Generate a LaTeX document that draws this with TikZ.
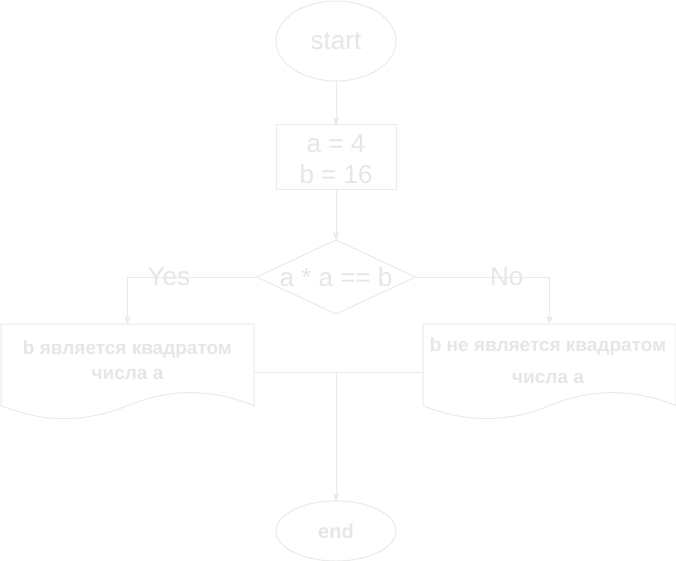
\documentclass[tikz,border=0pt]{standalone}
\usepackage{fontspec}
\setmainfont{Liberation Sans}
\usetikzlibrary{shapes.geometric,arrows.meta}
\definecolor{ln}{RGB}{234,234,234}
\definecolor{tx}{RGB}{230,230,230}
\begin{document}
\begin{tikzpicture}[x=1pt,y=-1pt,
  every node/.style={text=tx, inner sep=0pt, outer sep=0pt},
  line/.style={draw=ln, line width=1pt},
  arr/.style={line, -{Stealth[length=8pt,width=6.5pt,inset=2pt]}},
  big/.style={font=\fontsize{26}{31}\selectfont, align=center},
  doctext/.style={font=\bfseries\fontsize{19}{25}\selectfont, align=center},
  lbl/.style={font=\fontsize{26}{30}\selectfont}]
\useasboundingbox (0,0) rectangle (676,561);
\fill[white] (0,0) rectangle (676,561);

\node[ellipse, line, minimum width=120pt, minimum height=80pt, big] (start) at (336,41) {start};
\node[rectangle, line, minimum width=120pt, minimum height=65pt] (init) at (336,157.5) {};
\node[big] (inittext) at (336,159.5) {a = 4\\b = 16};
\node[diamond, line, minimum width=159pt, minimum height=74pt] (dec) at (336,277) {};
\node[big] (dectext) at (dec.center) {a * a == b};

% documents
\draw[line] (1,324) -- (254,324) -- (254,405.6)
  .. controls (211.83,388.32) and (169.67,388.32) .. (127.5,405.6)
  .. controls (85.33,422.88) and (43.17,422.88) .. (1,405.6) -- cycle;
\draw[line] (423,324) -- (676,324) -- (676,405.6)
  .. controls (633.83,388.32) and (591.67,388.32) .. (549.5,405.6)
  .. controls (507.33,422.88) and (465.17,422.88) .. (423,405.6) -- cycle;
\node[doctext] (ltext) at (127.5,360) {b является квадратом\\числа а};
\node[doctext, font=\bfseries\fontsize{19}{32}\selectfont] (rtext) at (548,361) {b не является квадратом\\числа а};
\coordinate (ltop) at (127.5,324);
\coordinate (rtop) at (549.5,324);
\coordinate (lright) at (254,372);
\coordinate (rleft) at (423,372);
\coordinate (merge) at (336,372);

\node[ellipse, line, minimum width=120pt, minimum height=60pt, font=\bfseries\fontsize{20}{24}\selectfont] (end) at (336,531) {end};

\draw[arr] (start) -- (init);
\draw[arr] (init.south) -- (dec.north);
\draw[arr] (dec.west) -| (ltop) node[lbl, pos=0.34] (yes) {Yes};
\draw[arr] (dec.east) -| (rtop) node[lbl, pos=0.34] (no) {No};
\draw[line] (lright) -- (rleft);
\draw[arr] (merge) -- (end);
\end{tikzpicture}
\end{document}
